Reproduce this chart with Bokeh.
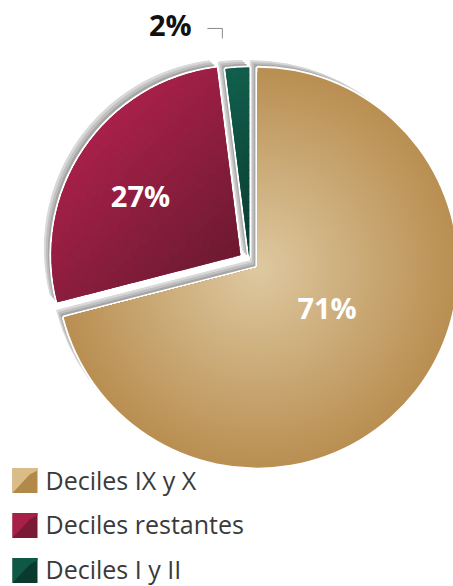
import math
from bokeh.plotting import figure
from bokeh.models import Range1d, ColumnDataSource
from bokeh.core.properties import value
from bokeh.embed import file_html
from bokeh.resources import INLINE

# ---- data ----
categories = ["Deciles IX y X", "Deciles restantes", "Deciles I y II"]
shares = [71, 27, 2]
pct_labels = ["71%", "27%", "2%"]

# ---- style ----
W, H = 453, 586
FONT = "Open Sans"
RADII = [200, 189, 190]
EXPLODE = [10, 11, 4]
GRAD = [("radial", "#dfc9a1", "#b98f52"),
        ("linear", "#a8204a", "#6b1a31"),
        ("linear", "#12604d", "#0a3b30")]
LEG_LIGHT = ["#d9bc86", "#a81f48", "#0f5846"]
LEG_DARK = ["#b3894a", "#7a1a36", "#0a3a2e"]
LABEL_COL = ["white", "white", "#111111"]
LABEL_RF = [0.40, 0.617, 1.295]
LABEL_DA = [8.3, 3.2, 15.1]


def X(sx):
    return sx


def Y(sy):
    return H - sy


def hex2rgb(h):
    h = h.lstrip("#")
    return tuple(int(h[i:i + 2], 16) for i in (0, 2, 4))


def lerp(c0, c1, t):
    t = min(1.0, max(0.0, t))
    a, b = hex2rgb(c0), hex2rgb(c1)
    return "#%02x%02x%02x" % tuple(int(round(a[i] + (b[i] - a[i]) * t)) for i in range(3))


p = figure(width=W, height=H, x_range=Range1d(0, W), y_range=Range1d(0, H),
           output_backend="svg", toolbar_location=None, min_border=0)
p.axis.visible = False
p.grid.visible = False
p.outline_line_color = None
p.background_fill_color = "white"
p.border_fill_color = "white"

CX, CY = X(249), Y(261)
total = float(sum(shares))

slices = []
start = math.pi / 2
for i, s in enumerate(shares):
    frac = s / total
    a_hi = start
    a_lo = start - frac * 2 * math.pi
    mid = (a_hi + a_lo) / 2
    cx = CX + EXPLODE[i] * math.cos(mid)
    cy = CY + EXPLODE[i] * math.sin(mid)
    slices.append((cx, cy, a_lo, a_hi, mid, RADII[i]))
    start = a_lo

sx = [s[0] for s in slices]
sy = [s[1] for s in slices]
sa = [s[2] for s in slices]
ea = [s[3] for s in slices]
rr = [s[5] for s in slices]

# bevel / shadow towards upper-left
for off, col in [(7, "#d8d8d8"), (5, "#bfbfbf"), (3, "#a6a6a6")]:
    p.wedge(x=[v - off for v in sx], y=[v + off for v in sy], radius=rr,
            start_angle=sa, end_angle=ea, fill_color=col, line_color=col, line_width=1)

# white borders
p.wedge(x=sx, y=sy, radius=rr, start_angle=sa, end_angle=ea,
        fill_color="white", line_color="white", line_width=4)

# gradient fills
for i, (cx, cy, a_lo, a_hi, mid, R) in enumerate(slices):
    kind, c0, c1 = GRAD[i]
    span = a_hi - a_lo
    if kind == "radial":
        n = 50
        radii = [R * (n - k) / n for k in range(n)]
        cols = [lerp(c0, c1, r / R) for r in radii]
        p.wedge(x=[cx] * n, y=[cy] * n, radius=radii, start_angle=[a_lo] * n,
                end_angle=[a_hi] * n, fill_color=cols, line_color=None)
        continue
    d = (1 / math.sqrt(2), -1 / math.sqrt(2))
    pts = [(0.0, 0.0)] + [(R * math.cos(a_lo + span * k / 40), R * math.sin(a_lo + span * k / 40)) for k in range(41)]
    projs = [px * d[0] + py * d[1] for px, py in pts]
    pmin, pmax = min(projs), max(projs)
    p.wedge(x=[cx], y=[cy], radius=[R], start_angle=[a_lo], end_angle=[a_hi],
            fill_color=lerp(c0, c1, 0.5), line_color=None)
    na = max(2, int(math.degrees(span) / 3))
    nr = 24
    xs, ys, ir, orr, s0s, s1s, cols = [], [], [], [], [], [], []
    eps = 0.004
    for ja in range(na):
        s0 = a_lo + span * ja / na
        s1 = a_lo + span * (ja + 1) / na
        for jr in range(nr):
            r0 = R * jr / nr
            r1 = R * (jr + 1) / nr
            rm = (r0 + r1) / 2
            am = (s0 + s1) / 2
            pr = rm * math.cos(am) * d[0] + rm * math.sin(am) * d[1]
            t = (pr - pmin) / (pmax - pmin)
            xs.append(cx); ys.append(cy)
            ir.append(max(0.0, r0 - 0.6)); orr.append(min(R, r1 + 0.6))
            s0s.append(max(a_lo, s0 - eps)); s1s.append(min(a_hi, s1 + eps))
            cols.append(lerp(c0, c1, t))
    src = ColumnDataSource(dict(x=xs, y=ys, ir=ir, orr=orr, sa=s0s, ea=s1s, c=cols))
    p.annular_wedge(x="x", y="y", inner_radius="ir", outer_radius="orr",
                    start_angle="sa", end_angle="ea", fill_color="c", line_color=None,
                    source=src)

# percentage labels
lx, ly = [], []
for i, (cx, cy, a_lo, a_hi, mid, R) in enumerate(slices):
    a = mid + math.radians(LABEL_DA[i])
    lx.append(cx + LABEL_RF[i] * R * math.cos(a))
    ly.append(cy + LABEL_RF[i] * R * math.sin(a))
p.text(x=lx, y=ly, text=pct_labels, text_color=LABEL_COL, text_font=value(FONT),
       text_font_style="bold", text_font_size="29px", text_align="center", text_baseline="middle")

# leader for the small label
gx, gy = lx[2], ly[2]
p.line(x=[gx + 37, gx + 52, gx + 52], y=[gy - 4, gy - 4, gy - 14], line_color="#8a8a8a", line_width=1)

# legend
n = len(categories)
leg_cx = [X(24.5)] * n
leg_cy = [Y(480 + 45 * i) for i in range(n)]
S = 25
p.rect(x=leg_cx, y=leg_cy, width=S, height=S, fill_color=LEG_DARK, line_color=None)
tri_x = [[x - S / 2, x - S / 2, x + 0.2 * S, x + S / 2, x + S / 2] for x in leg_cx]
tri_y = [[y + S / 2, y - S / 2, y + 0.25 * S, y + 0.4 * S, y + S / 2] for y in leg_cy]
p.patches(xs=tri_x, ys=tri_y, fill_color=LEG_LIGHT, line_color=None)
p.text(x=[X(45)] * n, y=[Y(479 + 44.5 * i) for i in range(n)], text=categories,
       text_color="#3a3a3a", text_font=value(FONT), text_font_size="25px",
       text_align="left", text_baseline="middle")

open("out.html", "w").write(file_html(p, INLINE))
